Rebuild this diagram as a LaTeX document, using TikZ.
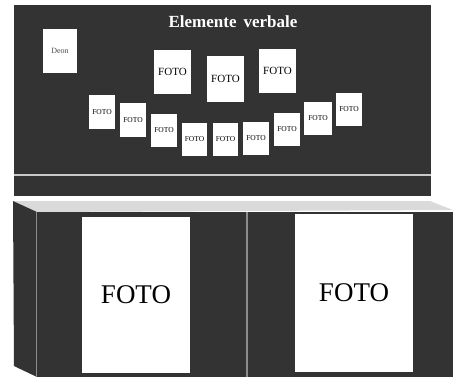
\documentclass[tikz,border=0pt]{standalone}
\usepackage{fontspec}
\setmainfont{Liberation Serif}
\usepackage{tikz}
\usetikzlibrary{positioning}
\usepackage{xcolor}
\definecolor{panel}{HTML}{333333}
\definecolor{rim}{HTML}{DADADA}
\tikzstyle{board} = [
fill=panel,
draw=none
]
\tikzstyle{bigfoto} = [
rectangle,
fill=white,
minimum width=37pt,
minimum height=44pt,
inner sep=0pt,
font=\fontsize{11}{11}\selectfont
]
\tikzstyle{smallfoto} = [
rectangle,
fill=white,
minimum width=26pt,
minimum height=33pt,
inner sep=0pt,
font=\fontsize{7.5}{7.5}\selectfont
]
\tikzstyle{bigphoto} = [
rectangle,
fill=white,
inner sep=0pt,
font=\fontsize{27}{27}\selectfont
]

\begin{document}
\begin{tikzpicture}[x=1pt,y=-1pt]
        \useasboundingbox (0,0) rectangle (454,380);
        
        % upper panel
        \fill [board] (14,5) rectangle (431,196);
        \draw [rim!90!panel, line width=1.2pt] (14,175) -- (431,175);
        
        \node (title) at (233,22) [text=white, font=\fontsize{17}{17}\selectfont\bfseries]
        {Elemente\, verbale};
        
        \node (deon) at (60,51) [smallfoto, minimum width=34pt, minimum height=44pt, text=black!70, font=\fontsize{8}{8}\selectfont]
        {Deon};
        
        \node (big1) at (172.5,72) [bigfoto] {FOTO};
        \node (big2) at (225.5,79) [bigfoto, minimum height=46pt] {FOTO};
        \node (big3) at (277.5,71) [bigfoto] {FOTO};
        
        \node (sm1) at (102,112) [smallfoto, minimum height=34pt] {FOTO};
        \node (sm2) at (133,120) [smallfoto, minimum height=34pt] {FOTO};
        \node (sm3) at (164,130.5) [smallfoto] {FOTO};
        \node (sm4) at (194.5,139) [smallfoto, minimum width=25pt] {FOTO};
        \node (sm5) at (225.5,139) [smallfoto, minimum width=25pt] {FOTO};
        \node (sm6) at (256,138) [smallfoto] {FOTO};
        \node (sm7) at (287,129.5) [smallfoto] {FOTO};
        \node (sm8) at (318,118.5) [smallfoto, minimum width=28pt] {FOTO};
        \node (sm9) at (349,109.5) [smallfoto] {FOTO};
        
        % lower box
        \fill [rim] (13,201) -- (430,201) -- (453,210) -- (37,212) -- cycle;
        \fill [board] (13,201) -- (37,212) -- (37,377) -- (14,366) -- cycle;
        \fill [board] (37,212) rectangle (453,377);
        \draw [black!45, line width=0.8pt] (36,212) -- (36,377);
        \draw [black!45, line width=1.5pt] (247,212) -- (247,377);
        
        \node (photoL) at (136,295) [bigphoto, minimum width=108pt, minimum height=156pt]
        {FOTO};
        \node (photoR) at (354,293) [bigphoto, minimum width=118pt, minimum height=158pt]
        {FOTO};
        
        \end{tikzpicture}
\end{document}
